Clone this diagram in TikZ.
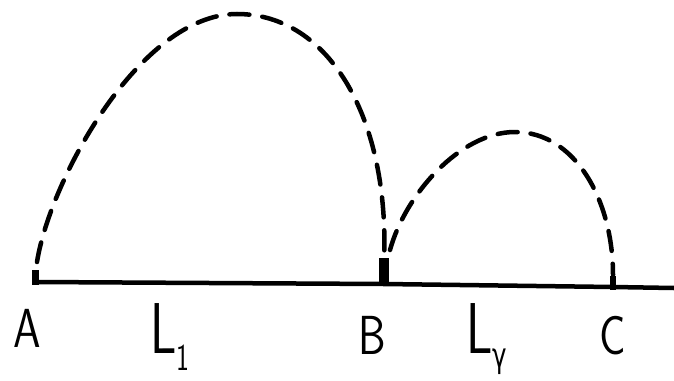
\documentclass[tikz,border=0pt]{standalone}
\usepackage{fontspec}
\newfontfamily\greekfont{DejaVu Sans}
\usetikzlibrary{calc}
\begin{document}
\begin{tikzpicture}[x=1pt,y=-1pt,
  arcline/.style={line width=4.5pt,dash pattern=on 20pt off 13pt,line cap=round},
  baseline/.style={line width=4.5pt},
  ptlabel/.style={font=\fontsize{55}{60}\selectfont\sffamily,inner sep=0pt,xscale=0.8},
  seglabel/.style={font=\fontsize{72}{76}\selectfont\sffamily,inner sep=0pt,anchor=base west,xscale=0.72}]
\useasboundingbox (0,0) rectangle (674,380);
\fill[white] (0,0) rectangle (674,380);
\coordinate (A) at (36,282);
\coordinate (B) at (384,284);
\coordinate (C) at (613,287);
\coordinate (E) at (674,288);
\coordinate (P1) at (237,14);
\coordinate (P2) at (515,132);
% base line
\draw[baseline] (A) -- (B) -- (C) -- (E);
% endpoint marks
\fill (32,270) rectangle (39,285);
\fill (379,258) rectangle (389,286);
\fill (610,276) rectangle (616,290);
% arcs
\draw[arcline] (37,262) .. controls (50,180) and (140,14) .. (P1)
  .. controls (330,14) and (390,120) .. (384,262);
\draw[arcline] (390,250) .. controls (405,195) and (460,132) .. (P2)
  .. controls (575,132) and (613,200) .. (613,275);
% labels
\node[ptlabel] (la) at (27,328) {A};
\node[ptlabel] (lb) at (372,335) {B};
\node[ptlabel] (lc) at (613,336) {C};
\node[seglabel] (l1) at (150,353) {L\raisebox{-0.24em}{\fontsize{38}{38}\selectfont 1}};
\node[seglabel] (l2) at (466,353) {L\raisebox{-0.2em}{\fontsize{34}{34}\selectfont\greekfont γ}};
\end{tikzpicture}
\end{document}
